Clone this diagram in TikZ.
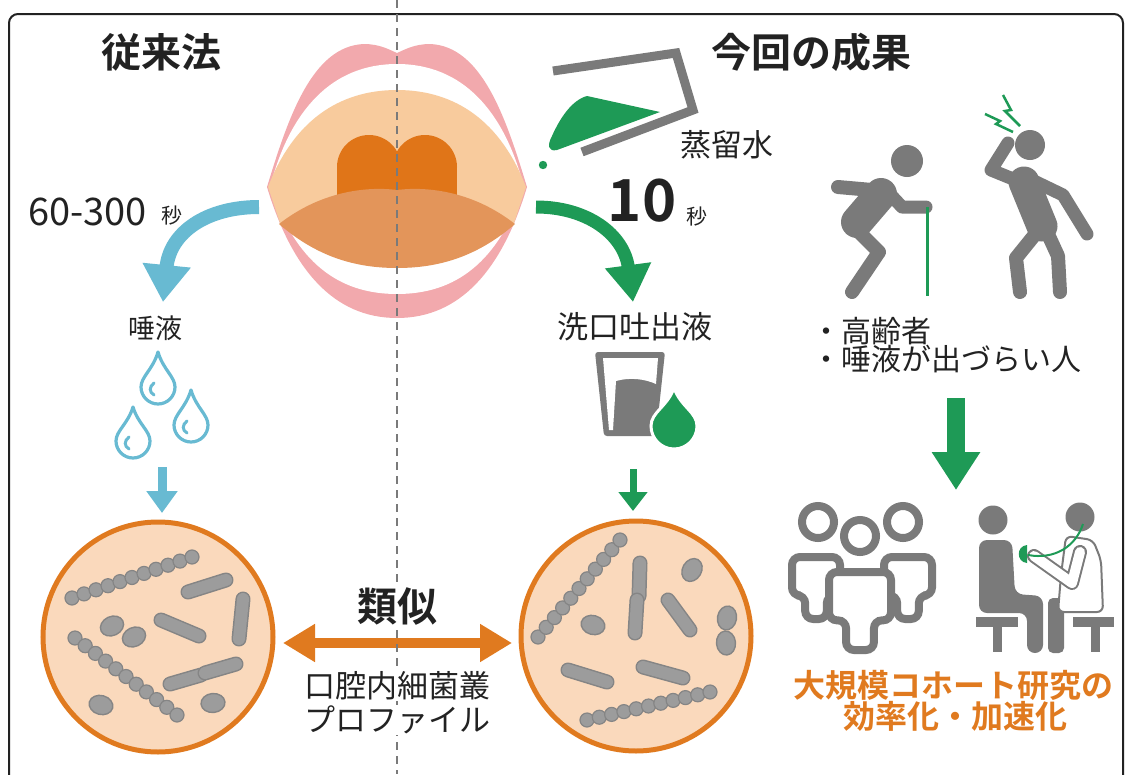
\documentclass[tikz,border=0pt]{standalone}
\usepackage{fontspec}
\setmainfont{Noto Sans CJK JP}[BoldFont={Noto Sans CJK JP Bold}]
\usetikzlibrary{arrows.meta,calc}

\definecolor{iconGray}{HTML}{7A7A7A}
\definecolor{leafGreen}{HTML}{1E9A56}
\definecolor{skyBlue}{HTML}{68BAD2}
\definecolor{dishOrange}{HTML}{E07A1F}
\definecolor{dishFill}{HTML}{FAD9BC}
\definecolor{lipPink}{HTML}{F2A9AD}
\definecolor{palateTone}{HTML}{F8CB9D}
\definecolor{tongueTone}{HTML}{E3955A}
\definecolor{uvulaTone}{HTML}{E07518}
\definecolor{inkDark}{HTML}{222222}
\definecolor{bugGray}{HTML}{9C9C9C}
\definecolor{bugEdge}{HTML}{858585}

% rod-shaped bacterium between two points
\newcommand\bugrod[2]{%
  \draw[line width=15, line cap=round, bugEdge] #1 -- #2;
  \draw[line width=12, line cap=round, bugGray] #1 -- #2;}
% chain of cocci from #1 to #2 with #3+1 beads
\newcommand\bugchain[3]{%
  \foreach \bi in {0,...,#3} {%
    \pgfmathsetmacro\bt{\bi/#3}
    \filldraw[fill=bugGray, draw=bugEdge, line width=1.2] ($#1!\bt!#2$) circle (7);}}
% single oval coccus
\newcommand\bugoval[2]{%
  \filldraw[fill=bugGray, draw=bugEdge, line width=1.4, rotate around={#2:#1}] #1 ellipse (12 and 9.5);}
% drop outline: centre x, tip y, bulb centre y, radius
\newcommand\dropshape[4]{%
  (#1,#2) .. controls (#1+0.3*#4,#2+0.5*#3-0.5*#2) and (#1+#4,#3-0.6*#4) .. (#1+#4,#3)
  .. controls (#1+#4,#3+0.55*#4) and (#1+0.55*#4,#3+#4) .. (#1,#3+#4)
  .. controls (#1-0.55*#4,#3+#4) and (#1-#4,#3+0.55*#4) .. (#1-#4,#3)
  .. controls (#1-#4,#3-0.6*#4) and (#1-0.3*#4,#2+0.5*#3-0.5*#2) .. cycle}
% outlined person body for the crowd icon: centre x, top y, half width, height
\newcommand\crowdbody[4]{%
  \draw[ring, rounded corners=8] (#1,#2) -- (#1+#3,#2) -- (#1+#3,#2+0.62*#4)
    -- (#1+0.45*#3,#2+0.62*#4) -- (#1+0.45*#3,#2+#4) -- (#1-0.45*#3,#2+#4)
    -- (#1-0.45*#3,#2+0.62*#4) -- (#1-#3,#2+0.62*#4) -- (#1-#3,#2) -- cycle;}

\tikzset{
  lbl/.style={inner sep=1pt, text=inkDark},
  titletext/.style={lbl, font=\bfseries\fontsize{40}{44}\selectfont},
  cohorttext/.style={inner sep=1pt, text=dishOrange, font=\bfseries\fontsize{32}{36}\selectfont},
  frameline/.style={draw=inkDark, line width=2, rounded corners=9},
  divider/.style={draw=iconGray, line width=2.8, dash pattern=on 8pt off 6pt},
  dish/.style={circle, draw=dishOrange, line width=5, fill=dishFill, minimum size=230pt, inner sep=0pt},
  limb/.style={draw=iconGray, line width=14, line cap=round, line join=round},
  ring/.style={draw=iconGray, line width=8, fill=white},
  bolt/.style={draw=leafGreen, line width=2.5, line join=miter},
}

\begin{document}
\begin{tikzpicture}[x=1pt,y=-1pt]
\useasboundingbox (0,0) rectangle (1130,774);

% outer frame
\draw[frameline] (9,14) rectangle (1123,800);

% ---------- open mouth ----------
\fill[lipPink] (267,187) .. controls (288,118) and (312,46) .. (364,44)
  .. controls (380,44) and (390,50) .. (397,53)
  .. controls (404,50) and (414,44) .. (430,44)
  .. controls (482,46) and (506,118) .. (527,187)
  .. controls (502,270) and (460,318) .. (397,318)
  .. controls (334,318) and (292,270) .. (267,187) -- cycle;
\fill[white] (270,187) .. controls (290,110) and (332,64) .. (397,64)
  .. controls (462,64) and (504,110) .. (524,187)
  .. controls (498,262) and (456,294) .. (397,294)
  .. controls (338,294) and (296,262) .. (270,187) -- cycle;
\fill[palateTone] (268,187) .. controls (293,122) and (338,90) .. (397,90)
  .. controls (456,90) and (501,122) .. (526,187) -- (513,226) -- (281,226) -- cycle;
\fill[uvulaTone] (369,167) circle (32);
\fill[uvulaTone] (425,167) circle (32);
\fill[uvulaTone] (337,167) rectangle (457,200);
\fill[tongueTone] (279,224) .. controls (320,192) and (365,186) .. (397,190)
  .. controls (429,186) and (474,192) .. (515,224)
  .. controls (478,256) and (440,268) .. (397,268)
  .. controls (354,268) and (316,256) .. (279,224) -- cycle;

% ---------- petri dishes ----------
\node[dish] (dishL) at (158,637) {};
\node[dish] (dishR) at (636,636) {};

% bacteria, conventional sample
\bugchain{(72,598)}{(192,557)}{10}
\bugchain{(75,638)}{(177,715)}{10}
\bugrod{(188,592)}{(226,580)}
\bugrod{(243,599)}{(239,639)}
\bugrod{(161,620)}{(199,636)}
\bugrod{(170,684)}{(201,675)}
\bugrod{(205,673)}{(236,664)}
\bugoval{(112,626)}{25}
\bugoval{(134,637)}{25}
\bugoval{(101,705)}{-15}
\bugoval{(213,703)}{5}

% bacteria, rinse sample
\bugchain{(538,637)}{(620,540)}{10}
\bugchain{(587,720)}{(710,692)}{10}
\bugrod{(640,563)}{(639,596)}
\bugrod{(637,600)}{(635,633)}
\bugrod{(668,600)}{(690,630)}
\bugrod{(568,670)}{(607,682)}
\bugrod{(643,667)}{(683,678)}
\bugoval{(692,570)}{60}
\bugoval{(593,625)}{-15}
\bugoval{(727,618)}{80}
\bugoval{(726,643)}{95}

% similarity arrow between the dishes
\coordinate (simL) at (283,643);
\coordinate (simR) at (512,643);
\draw[dishOrange, line width=10, {Triangle[width=36pt,length=32pt]}-{Triangle[width=36pt,length=32pt]}] (simL) -- (simR);

% centre divider
\coordinate (divTop) at (397,0);
\coordinate (divBot) at (397,774);
\draw[divider] (divTop) -- (divBot);

% ---------- conventional route ----------
\coordinate (mouthL) at (259,207);
\coordinate (salivaTip) at (163,302);
\draw[skyBlue, line width=14, -{Triangle[width=46pt,length=37pt]}]
  (mouthL) .. controls (207,207) and (170,232) .. (salivaTip);

\foreach \dx/\dt/\dc in {158/352/387, 191/390/425, 133/407/441} {
  \draw[skyBlue, line width=3.2, line join=round] \dropshape{\dx}{\dt}{\dc}{17};
  \draw[skyBlue, line width=3, line cap=round]
    (\dx-4,\dc-4) .. controls (\dx-9,\dc) and (\dx-9,\dc+5) .. (\dx-4,\dc+8);
}
\coordinate (dropsBot) at (162,467);
\coordinate (dishLTop) at (162,513);
\draw[skyBlue, line width=9, -{Triangle[width=30pt,length=22pt]}] (dropsBot) -- (dishLTop);

% ---------- rinse route ----------
% tilted beaker pouring water
\draw[iconGray, line width=9, line join=miter] (553,71) -- (676,53) -- (693,110) -- (582,152);
\fill[leafGreen] (587,96) -- (660,112) -- (557,150) .. controls (548,152) and (547,145) .. (552,136)
  .. controls (560,118) and (572,100) .. (587,96) -- cycle;
\fill[leafGreen] (543,165) circle (4.2);

\coordinate (mouthR) at (536,207);
\coordinate (rinseTip) at (633,302);
\draw[leafGreen, line width=13, -{Triangle[width=44pt,length=37pt]}]
  (mouthR) .. controls (588,207) and (624,235) .. (rinseTip);

% cup with drop
\fill[iconGray, rounded corners=3] (595,352) -- (665,352) -- (656,436) -- (604,436) -- cycle;
\fill[white] (603,358) -- (658,358) -- (656,384) .. controls (645,379) and (630,377) .. (616,381)
  -- (613,430) -- (609,430) -- cycle;
\filldraw[fill=leafGreen, draw=white, line width=3] \dropshape{674}{388}{426}{23};
\coordinate (cupBot) at (633,469);
\coordinate (dishRTop) at (633,511);
\draw[leafGreen, line width=7, -{Triangle[width=28pt,length=19pt]}] (cupBot) -- (dishRTop);

% ---------- target groups ----------
% elderly person with a cane
\fill[iconGray] (907,161) circle (16);
\draw[limb, line width=32] (881,194) -- (857,222);
\draw[limb] (872,190) -- (838,187);
\draw[limb, line width=13] (888,192) -- (902,207) -- (926,207);
\draw[limb] (853,226) -- (879,252) -- (852,292);
\draw[leafGreen, line width=3] (927,207) -- (927,296);
% person with a headache
\fill[iconGray] (1030,145) circle (15);
\draw[limb, line width=31] (1024,182) -- (1042,226);
\draw[limb, line width=13] (1018,181) -- (991,170) -- (1008,143);
\draw[limb, line width=13] (1036,182) -- (1063,195) -- (1087,234);
\draw[limb] (1037,232) -- (1016,258) -- (1020,292);
\draw[limb] (1047,232) -- (1058,256) -- (1060,292);
\draw[bolt] (1003,95) -- (1011,110) -- (1005,111) -- (1020,126);
\draw[bolt] (985,114) -- (1000,121) -- (996,124) -- (1013,132);

\coordinate (groupsBot) at (956,398);
\coordinate (cohortTop) at (956,490);
\draw[leafGreen, line width=18, -{Triangle[width=46pt,length=38pt]}] (groupsBot) -- (cohortTop);

% crowd icon
\crowdbody{816}{557}{24}{62}
\draw[ring] (818,522) circle (16);
\crowdbody{908}{557}{24}{62}
\draw[ring] (903,522) circle (16);
\crowdbody{860}{572}{31}{78}
\draw[ring] (860,536) circle (16);

% patient and doctor
\fill[iconGray] (976,617) rectangle (1018,627);
\fill[iconGray] (993,627) rectangle (1002,652);
\fill[iconGray] (1073,617) rectangle (1114,627);
\fill[iconGray] (1091,627) rectangle (1100,652);
\fill[iconGray] (993,520) circle (14.5);
\fill[iconGray, rounded corners=8] (979,540) -- (1012,540) -- (1015,594) -- (1043,596)
  -- (1043,653) -- (1027,653) -- (1027,613) -- (979,613) -- cycle;
\fill[iconGray, rounded corners=5] (1048,598) -- (1064,598) -- (1064,653) -- (1048,653) -- cycle;
\fill[iconGray] (1080,517) circle (14.5);
\filldraw[fill=white, draw=iconGray, line width=2, rounded corners=6]
  (1066,536) -- (1093,540) -- (1101,560) -- (1103,612) -- (1058,612) -- (1061,575) -- cycle;
\draw[iconGray, line width=14, line cap=round, line join=round] (1080,552) -- (1072,583) -- (1034,556);
\draw[white, line width=10, line cap=round, line join=round] (1080,552) -- (1072,583) -- (1034,556);
\fill[leafGreen] (1027,545) -- (1027,563) .. controls (1016,562) and (1016,546) .. (1027,545) -- cycle;
\draw[leafGreen, line width=2] (1028,555) .. controls (1055,560) and (1076,546) .. (1083,524);

% ---------- texts ----------
\node[titletext] (oldTitle) at (161,52) {従来法};
\node[titletext] (newTitle) at (811,52) {今回の成果};
\node[lbl, anchor=west, font=\fontsize{38}{40}\selectfont] (oldTime) at (27,212) {60-300};
\node[lbl, font=\fontsize{21}{22}\selectfont] (oldSec) at (172,216) {秒};
\node[lbl, font=\bfseries\fontsize{58}{60}\selectfont] (newTime) at (642,201) {10};
\node[lbl, font=\fontsize{21}{22}\selectfont] (newSec) at (697,217) {秒};
\node[lbl, font=\fontsize{31}{34}\selectfont] (water) at (727,145) {蒸留水};
\node[lbl, font=\fontsize{27}{30}\selectfont] (saliva) at (155,328) {唾液};
\node[lbl, font=\fontsize{31}{34}\selectfont] (rinse) at (635,327) {洗口吐出液};
\node[lbl, anchor=west, font=\fontsize{30}{32}\selectfont] (elderly) at (810,331) {・高齢者};
\node[lbl, anchor=west, font=\fontsize{30}{32}\selectfont] (drymouth) at (810,359) {・唾液が出づらい人};
\node[titletext, fill=white] (similar) at (397,607) {類似};
\node[lbl, fill=white, font=\fontsize{31}{34}\selectfont] (profileA) at (397,686) {口腔内細菌叢};
\node[lbl, fill=white, font=\fontsize{31}{34}\selectfont] (profileB) at (397,720) {プロファイル};
\node[cohorttext] (cohortA) at (953,685) {大規模コホート研究の};
\node[cohorttext] (cohortB) at (955,716) {効率化・加速化};
\end{tikzpicture}
\end{document}
